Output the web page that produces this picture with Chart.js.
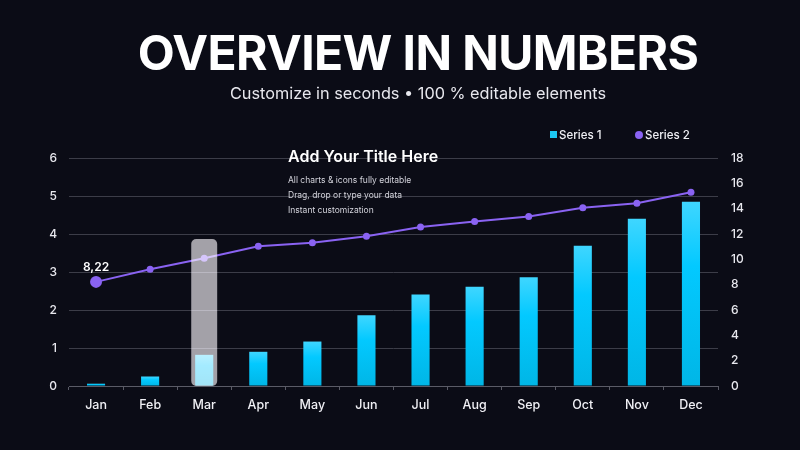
<!DOCTYPE html>
<html>
<head>
<meta charset="utf-8">
<script src="https://cdn.jsdelivr.net/npm/chart.js@4.4.1/dist/chart.umd.min.js"></script>
<style>
  html, body { margin: 0; padding: 0; background: #0b0c16; }
  #wrap { position: relative; width: 800px; height: 450px; overflow: hidden; background: #0b0c16; font-family: Inter, "Noto Sans", sans-serif; }
  #c { position: absolute; left: 0; top: 0; }
  .abs { position: absolute; white-space: nowrap; color: #fff; }
  #title { left: 418px; top: 29px; transform: translateX(-50%); font-size: 48px; line-height: 48px; font-weight: 700; letter-spacing: -0.6px; }
  #sub { left: 418px; top: 85px; transform: translateX(-50%); font-size: 16.3px; line-height: 17px; font-weight: 400; color: #e8e8ee; }
  #ctitle { left: 288px; top: 148px; font-size: 16px; line-height: 16px; font-weight: 600; }
  .note { left: 288px; font-size: 8.5px; line-height: 9px; color: #d4d4dc; }
  .leg { font-size: 11.5px; line-height: 12px; font-weight: 500; color: #f0f0f5; }
  #sq { left: 550px; top: 131px; width: 7px; height: 7px; background: #1cc8f2; }
  #dot { left: 635px; top: 131px; width: 8px; height: 8px; border-radius: 50%; background: #8a63f2; }
</style>
</head>
<body>
<div id="wrap">
  <canvas id="c" width="800" height="450"></canvas>
  <div class="abs" id="title">OVERVIEW IN NUMBERS</div>
  <div class="abs" id="sub">Customize in seconds • 100 % editable elements</div>
  <div class="abs" id="ctitle">Add Your Title Here</div>
  <div class="abs note" style="top:176px">All charts &amp; icons fully editable</div>
  <div class="abs note" style="top:191px">Drag, drop or type your data</div>
  <div class="abs note" style="top:206px">Instant customization</div>
  <div class="abs" id="sq"></div>
  <div class="abs leg" style="left:559px; top:129px">Series 1</div>
  <div class="abs" id="dot"></div>
  <div class="abs leg" style="left:645px; top:129px">Series 2</div>
</div>
<script>
const categories = ["Jan","Feb","Mar","Apr","May","Jun","Jul","Aug","Sep","Oct","Nov","Dec"];
const series1 = [0.06, 0.25, 0.82, 0.90, 1.17, 1.86, 2.41, 2.61, 2.86, 3.69, 4.40, 4.85];
const series2 = [8.22, 9.21, 10.08, 11.03, 11.30, 11.83, 12.55, 12.98, 13.38, 14.07, 14.42, 15.29];
const leftTicks = [0, 1, 2, 3, 4, 5, 6];
const rightTicks = [0, 2, 4, 6, 8, 10, 12, 14, 16, 18];
const highlightIndex = 2;
const highlightValue = 3.87;

Chart.defaults.font.family = "Inter, 'Noto Sans', sans-serif";

function barGradient(ctx) {
  const chart = ctx.chart;
  if (!chart.chartArea || ctx.raw === undefined) return '#00c8ff';
  const y = chart.scales.y;
  const top = y.getPixelForValue(ctx.raw);
  const base = y.getPixelForValue(0);
  const g = chart.ctx.createLinearGradient(0, top, 0, base);
  g.addColorStop(0, '#3fd6ff');
  g.addColorStop(0.35, '#03c9ff');
  g.addColorStop(1, '#00b6e6');
  return g;
}

const overlayPlugin = {
  id: 'overlay',
  afterDatasetsDraw(chart) {
    const c = chart.ctx;
    const x = chart.scales.x;
    const y = chart.scales.y;
    const cx = x.getPixelForValue(highlightIndex);
    const w = x.getPixelForValue(1) - x.getPixelForValue(0);
    const hw = w * 0.48;
    const top = y.getPixelForValue(highlightValue);
    const bottom = y.getPixelForValue(0);
    c.save();
    c.globalCompositeOperation = 'screen';
    c.fillStyle = '#a3a1a8';
    c.beginPath();
    c.roundRect(cx - hw / 2, top, hw, bottom - top, 5);
    c.fill();
    c.restore();
    const meta = chart.getDatasetMeta(1);
    const el = meta.data[0];
    c.save();
    c.fillStyle = '#ffffff';
    c.font = "600 12px Inter, 'Noto Sans', sans-serif";
    c.textAlign = 'center';
    c.textBaseline = 'middle';
    c.fillText(String(series2[0]).replace('.', ','), el.x, el.y - 14);
    c.restore();
  }
};

new Chart(document.getElementById('c'), {
  data: {
    labels: categories,
    datasets: [
      {
        type: 'bar',
        label: 'Series 1',
        data: series1,
        yAxisID: 'y',
        backgroundColor: barGradient,
        borderWidth: 0,
        categoryPercentage: 1,
        barPercentage: 0.335,
        order: 2
      },
      {
        type: 'line',
        label: 'Series 2',
        data: series2,
        yAxisID: 'y1',
        borderColor: '#8a63f2',
        backgroundColor: '#8a63f2',
        borderWidth: 2,
        pointRadius: (ctx) => ctx.dataIndex === 0 ? 6 : 3.5,
        pointBackgroundColor: '#8a63f2',
        pointBorderWidth: 0,
        tension: 0,
        order: 1
      }
    ]
  },
  options: {
    responsive: false,
    animation: false,
    layout: { padding: { top: 158, right: 0, left: 0, bottom: 0 } },
    plugins: { legend: { display: false }, tooltip: { enabled: false } },
    scales: {
      x: {
        offset: true,
        afterFit: (s) => { s.height = 64; },
        grid: { display: true, offset: true, drawOnChartArea: false, drawTicks: true, tickLength: 4, color: '#5a5b66' },
        border: { display: true, color: '#5a5b66', width: 1 },
        ticks: { color: '#f0f0f5', font: { size: 12.5, weight: 500 }, padding: 8 }
      },
      y: {
        position: 'left',
        min: 0, max: 6,
        afterFit: (s) => { s.width = 69; },
        afterBuildTicks: (s) => { s.ticks = leftTicks.map(v => ({ value: v })); },
        grid: { color: '#3c3d48', lineWidth: 1, drawTicks: false },
        border: { display: false },
        ticks: { color: '#e8e8ee', font: { size: 12, weight: 500 }, padding: 12 }
      },
      y1: {
        position: 'right',
        min: 0, max: 18,
        afterFit: (s) => { s.width = 82; },
        afterBuildTicks: (s) => { s.ticks = rightTicks.map(v => ({ value: v })); },
        grid: { display: false, drawTicks: false },
        border: { display: false },
        ticks: { color: '#e8e8ee', font: { size: 12, weight: 500 }, padding: 13 }
      }
    }
  },
  plugins: [overlayPlugin]
});
</script>
</body>
</html>
